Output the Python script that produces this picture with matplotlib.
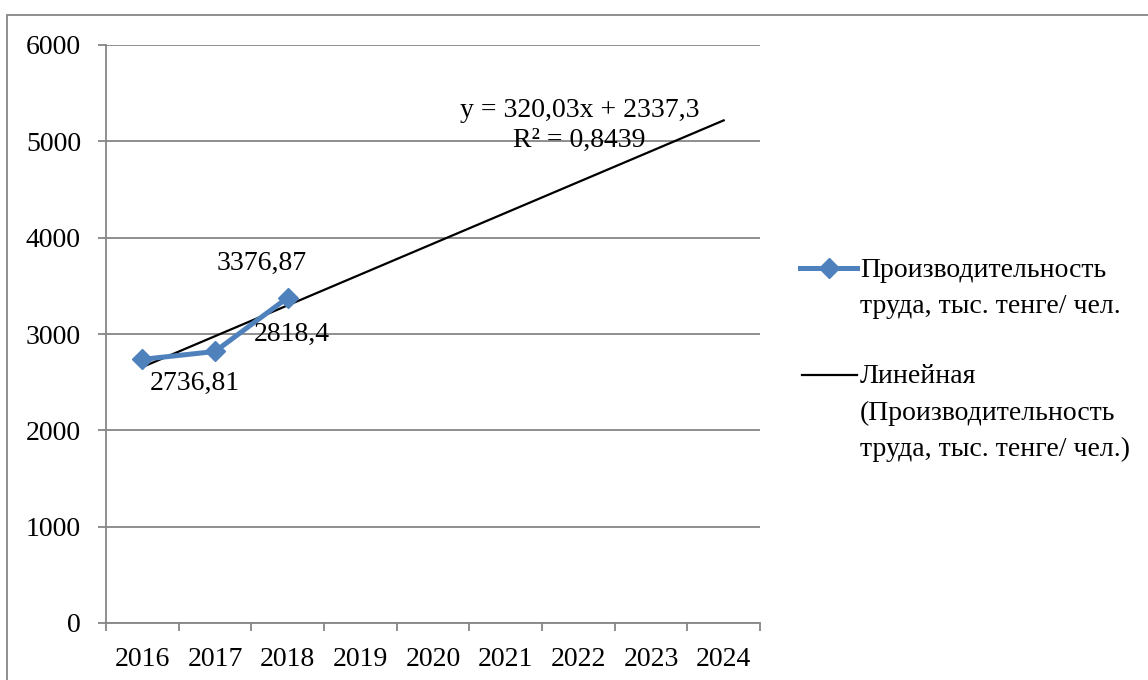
import numpy as np
import matplotlib
matplotlib.use('Agg')
import matplotlib.pyplot as plt
from matplotlib.lines import Line2D
from matplotlib.patches import Rectangle

# data
years = ['2016', '2017', '2018', '2019', '2020', '2021', '2022', '2023', '2024']
values = [2736.81, 2818.4, 3376.87]
value_labels = ['2736,81', '2818,4', '3376,87']
trend_slope = 320.03
trend_intercept = 2337.3
trend_text = 'y = 320,03x + 2337,3'
r2_text = 'R² = 0,8439'
series_name = 'Производительность\nтруда, тыс. тенге/ чел.'
trend_name = 'Линейная\n(Производительность\nтруда, тыс. тенге/ чел.)'
y_ticks = [0, 1000, 2000, 3000, 4000, 5000, 6000]

plt.rcParams['font.family'] = ['Liberation Serif', 'DejaVu Serif']
FS = 20
GRAY = '#868686'
BLUE = '#4F81BD'

W, H = 1148, 680
fig = plt.figure(figsize=(W / 100, H / 100), dpi=100)

def fx(px):
    return px / W

def fy(py):
    return 1 - py / H

# outer chart border (runs off the right/bottom edge)
fig.add_artist(Rectangle((fx(7), fy(700)), fx(1160) - fx(7), fy(15) - fy(700),
                         transform=fig.transFigure, fill=False, ec=GRAY, lw=1.3))

ax = fig.add_axes([fx(106), fy(623), fx(760) - fx(106), fy(45) - fy(623)])

x = np.arange(1, len(years) + 1)
xv = x[:len(values)]

# trendline over all categories
ax.plot(x, trend_slope * x + trend_intercept, color='black', lw=1.6, zorder=3)
ax.plot(xv, values, color=BLUE, lw=3.6, marker='D', ms=10, zorder=4)

ax.set_xlim(0.5, len(years) + 0.5)
ax.set_ylim(0, 6000)
ax.set_yticks(y_ticks)
ax.set_yticklabels([str(v) for v in y_ticks], fontsize=FS)
ax.set_xticks(x)
ax.set_xticklabels(years, fontsize=FS)
ax.set_xticks(np.arange(0.5, len(years) + 1), minor=True)
ax.tick_params(axis='x', which='major', length=0, pad=17)
ax.tick_params(axis='x', which='minor', length=6, color=GRAY, width=1.3, direction='out')
ax.tick_params(axis='y', length=6, color=GRAY, width=1.3, pad=12)
ax.grid(axis='y', color=GRAY, lw=1.3)
ax.set_axisbelow(True)
for s in ['top', 'right']:
    ax.spines[s].set_visible(False)
for s in ['left', 'bottom']:
    ax.spines[s].set_color(GRAY)
    ax.spines[s].set_linewidth(1.3)

# data labels (Excel placed them oddly, keep the same offsets)
offsets = [(5, -17, 'left'), (55, 12, 'center'), (-19, 25, 'center')]
for xi, v, lab, (dx, dy, ha) in zip(xv, values, value_labels, offsets):
    ax.annotate(lab, (xi, v), xytext=(dx, dy), textcoords='offset points',
                ha=ha, va='center', fontsize=FS, zorder=5)

ax.text(0.724, 0.8875, trend_text, transform=ax.transAxes, ha='center', va='center', fontsize=FS)
ax.text(0.724, 0.8356, r2_text, transform=ax.transAxes, ha='center', va='center', fontsize=FS)

# legend drawn by hand so handles line up with the first text line like Excel
fig.add_artist(Line2D([fx(800), fx(857)], [fy(268), fy(268)], transform=fig.transFigure,
                      color=BLUE, lw=3.6))
fig.add_artist(Line2D([fx(828.5)], [fy(268)], transform=fig.transFigure,
                      color=BLUE, marker='D', ms=10, lw=0))
fig.add_artist(Line2D([fx(802), fx(857)], [fy(375), fy(375)], transform=fig.transFigure,
                      color='black', lw=1.6))
fig.text(fx(860), fy(258), series_name, fontsize=FS, ha='left', va='top', linespacing=1.6)
fig.text(fx(860), fy(364), trend_name, fontsize=FS, ha='left', va='top', linespacing=1.6)

fig.savefig('out.png', dpi=100)
